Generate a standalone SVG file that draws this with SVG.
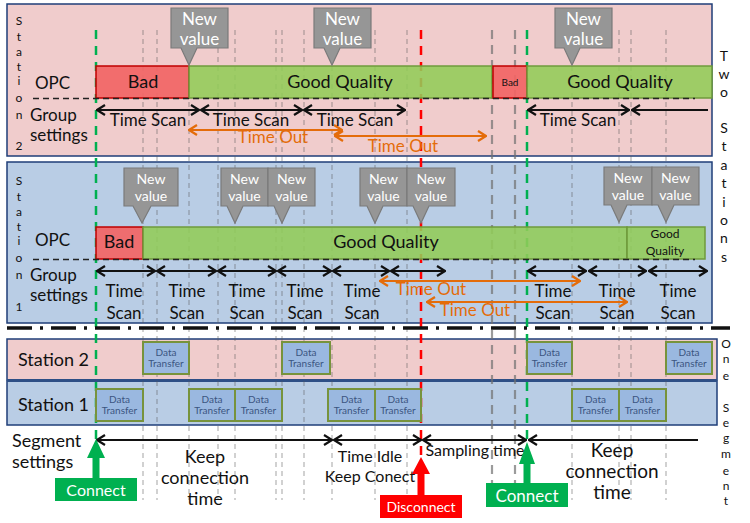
<svg xmlns="http://www.w3.org/2000/svg" width="750" height="523" viewBox="0 0 750 523">
<defs>
<style>
text{font-family:Lato,"Liberation Sans",sans-serif;fill:#111}
.lbl{font-size:17px}
.c{text-anchor:middle}
.vl{font-size:12px;text-anchor:middle}
.pink{fill:#f0cccc;stroke:#1f3e78;stroke-width:1.5}
.blue{fill:#b9cde5;stroke:#1f3e78;stroke-width:1.5}
.grid{stroke:#5a5a5a;stroke-opacity:.55;stroke-width:1;stroke-dasharray:5 4;fill:none}
.gridT{stroke:#707070;stroke-opacity:.7;stroke-width:2.2;stroke-dasharray:9 6;fill:none}
.good{fill:#92cc58;fill-opacity:.88;stroke:#6f9a3c;stroke-width:1.5}
.bad{fill:#f26565;fill-opacity:.92;stroke:#c00000;stroke-width:1.5}
.call{fill:#969696;stroke:#7a7a7a;stroke-width:1.2}
.callt{fill:#fff;text-anchor:middle}
.dt{fill:#9ab8e0;stroke:#77933c;stroke-width:2}
.dtt{fill:#3b5580;font-size:10px;text-anchor:middle}
.arr{stroke:#111;stroke-width:2;fill:none;marker-start:url(#ka);marker-end:url(#ka)}
.arr1{stroke:#111;stroke-width:2;fill:none;marker-start:url(#ka)}
.oarr{stroke:#e46c0a;stroke-width:2;fill:none;marker-start:url(#oa);marker-end:url(#oa)}
.ot{fill:#e46c0a;font-size:17px;text-anchor:middle}
</style>
<marker id="ka" viewBox="0 0 10 12" refX="9" refY="6" markerWidth="10" markerHeight="12" markerUnits="userSpaceOnUse" orient="auto-start-reverse">
<path d="M1,1 L9,6 L1,11" fill="none" stroke="#111" stroke-width="2.2"/>
</marker>
<marker id="oa" viewBox="0 0 10 12" refX="9" refY="6" markerWidth="10" markerHeight="12" markerUnits="userSpaceOnUse" orient="auto-start-reverse">
<path d="M1,1 L9,6 L1,11" fill="none" stroke="#e46c0a" stroke-width="2.2"/>
</marker>
</defs>

<g id="panels">
<rect class="pink" x="7" y="4" width="705" height="152"/>
<rect class="blue" x="7" y="162" width="705" height="161"/>
<rect class="pink" x="7" y="339" width="710" height="41"/>
<rect class="blue" x="7" y="381" width="710" height="44" fill="#bdd0e8"/>
<line x1="7" y1="380.5" x2="717" y2="380.5" stroke="#2e4f86" stroke-width="3"/>
</g>

<g id="gridlines">
<path class="grid" d="M143,30V500M157,30V500M189,30V500M218,30V500M235,30V500M276,30V500M282,30V500M304,30V500M332,30V500M375,30V500M407,30V500M572,30V500M619,30V500M631,30V500M666,30V500"/>
<path class="gridT" d="M492,30V485M515,30V490"/>
<line x1="96" y1="30" x2="96" y2="440" stroke="#00b050" stroke-width="2.5" stroke-dasharray="9 7"/>
<line x1="527" y1="30" x2="527" y2="440" stroke="#00b050" stroke-width="2.5" stroke-dasharray="9 7"/>
<line x1="421" y1="30" x2="421" y2="458" stroke="#ff0000" stroke-width="2.5" stroke-dasharray="9 7"/>
</g>

<g id="st2-bars">
<rect class="bad" x="96" y="66" width="93" height="32"/>
<text class="c" x="143" y="88" font-size="18">Bad</text>
<rect class="good" x="189" y="66" width="303" height="32"/>
<text class="c" x="340" y="88" font-size="18">Good Quality</text>
<rect class="bad" x="493" y="66" width="34" height="32"/>
<text class="c" x="510" y="86" font-size="10">Bad</text>
<rect class="good" x="527" y="66" width="185" height="32"/>
<text class="c" x="620" y="88" font-size="18">Good Quality</text>
</g>

<g id="st1-bars">
<rect class="bad" x="96" y="227" width="47" height="32"/>
<text class="c" x="119" y="248" font-size="18">Bad</text>
<rect class="good" x="143" y="227" width="484" height="32"/>
<text class="c" x="386" y="248" font-size="18">Good Quality</text>
<rect class="good" x="627" y="227" width="78" height="32"/>
<text class="c" x="665" y="238" font-size="12">Good</text>
<text class="c" x="665" y="255" font-size="12">Quality</text>
</g>

<path d="M33,98.5H695M33,259.5H695" stroke="#222" stroke-width="1.3" stroke-dasharray="6 4" fill="none"/>

<g id="st2-callouts" font-size="17">
<path class="call" d="M171,8H228V48H197L189,65L181,48H171Z"/>
<text class="callt" x="199.5" y="25">New</text><text class="callt" x="199.5" y="45">value</text>
<path class="call" d="M314,8H371V48H340L332,65L324,48H314Z"/>
<text class="callt" x="342.5" y="25">New</text><text class="callt" x="342.5" y="45">value</text>
<path class="call" d="M555,8H612V48H580L572,65L564,48H555Z"/>
<text class="callt" x="583.5" y="25">New</text><text class="callt" x="583.5" y="45">value</text>
</g>

<g id="st1-callouts" font-size="14">
<path class="call" d="M124,168H178V206H151L142,223L133,206H124Z"/>
<text class="callt" x="151" y="184">New</text><text class="callt" x="151" y="201">value</text>
<path class="call" d="M221,168H268V206H243L235,223L227,206H221Z"/>
<text class="callt" x="244.5" y="184">New</text><text class="callt" x="244.5" y="201">value</text>
<path class="call" d="M268,168H315V206H290L282,223L274,206H268Z"/>
<text class="callt" x="291.5" y="184">New</text><text class="callt" x="291.5" y="201">value</text>
<path class="call" d="M360,168H407V206H383L375,223L367,206H360Z"/>
<text class="callt" x="383.5" y="184">New</text><text class="callt" x="383.5" y="201">value</text>
<path class="call" d="M407,168H455V206H429L421,223L413,206H407Z"/>
<text class="callt" x="431" y="184">New</text><text class="callt" x="431" y="201">value</text>
<path class="call" d="M604,167H652V205H627L619,222L611,205H604Z"/>
<text class="callt" x="628" y="183">New</text><text class="callt" x="628" y="200">value</text>
<path class="call" d="M652,167H699V205H674L666,222L658,205H652Z"/>
<text class="callt" x="675.5" y="183">New</text><text class="callt" x="675.5" y="200">value</text>
</g>

<g id="connectors">
<path class="arr" d="M97,110H199"/>
<path class="arr" d="M201,110H302"/>
<path class="arr" d="M304,110H405"/>
<path class="arr" d="M528,110H629"/>
<path class="arr1" d="M632,110H708"/>
<path class="oarr" d="M189,130H342"/>
<path class="oarr" d="M335,136H486"/>
<path class="arr" d="M97,271H155"/>
<path class="arr" d="M157,271H216"/>
<path class="arr" d="M218,271H276"/>
<path class="arr" d="M278,271H331"/>
<path class="arr" d="M333,271H389"/>
<path class="arr" d="M391,271H445"/>
<path class="arr" d="M528,271H586"/>
<path class="arr" d="M589,271H646"/>
<path class="arr" d="M649,271H707"/>
<path class="oarr" d="M380,281H580"/>
<path class="oarr" d="M427,302H627"/>
<path class="arr" d="M97,440H332"/>
<path class="arr" d="M334,440H421"/>
<path class="arr" d="M423,440H526"/>
<path class="arr1" d="M529,440H698"/>
</g>

<g id="separator">
<line x1="7" y1="328" x2="730" y2="328" stroke="#111" stroke-width="3.5" stroke-dasharray="25 8 3 8"/>
</g>

<g id="st2-labels" class="lbl">
<text x="35" y="89">OPC</text>
<text x="30" y="121">Group</text>
<text x="30" y="141">settings</text>
<g class="vl"><text x="19" y="25">S</text><text x="19" y="41">t</text><text x="19" y="56">a</text><text x="19" y="71">t</text><text x="19" y="85">i</text><text x="19" y="102">o</text><text x="19" y="119">n</text><text x="19" y="150">2</text></g>
<text class="c" x="148" y="126">Time Scan</text>
<text class="c" x="251" y="126">Time Scan</text>
<text class="c" x="355" y="126">Time Scan</text>
<text class="c" x="578" y="126">Time Scan</text>
<text class="ot" x="273" y="143">Time Out</text>
<text class="ot" x="403" y="152">Time Out</text>
</g>

<g id="st1-labels" class="lbl">
<text x="35" y="246">OPC</text>
<text x="30" y="281">Group</text>
<text x="30" y="301">settings</text>
<g class="vl"><text x="19" y="185">S</text><text x="19" y="201">t</text><text x="19" y="216">a</text><text x="19" y="231">t</text><text x="19" y="245">i</text><text x="19" y="262">o</text><text x="19" y="279">n</text><text x="19" y="311">1</text></g>
<g class="c">
<text x="124" y="297">Time</text><text x="124" y="319">Scan</text>
<text x="187" y="297">Time</text><text x="187" y="319">Scan</text>
<text x="247" y="297">Time</text><text x="247" y="319">Scan</text>
<text x="305" y="297">Time</text><text x="305" y="319">Scan</text>
<text x="362" y="297">Time</text><text x="362" y="319">Scan</text>
<text x="553" y="297">Time</text><text x="553" y="319">Scan</text>
<text x="617" y="297">Time</text><text x="617" y="319">Scan</text>
<text x="678" y="297">Time</text><text x="678" y="319">Scan</text>
</g>
<text class="ot" x="431" y="295">Time Out</text>
<text class="ot" x="475" y="316">Time Out</text>
</g>

<g id="side-labels">
<g class="c" font-size="14"><text x="724" y="61">T</text><text x="724" y="79">w</text><text x="724" y="97">o</text><text x="724" y="133">S</text><text x="724" y="151">t</text><text x="724" y="170">a</text><text x="724" y="188">t</text><text x="724" y="207">i</text><text x="724" y="225">o</text><text x="724" y="243">n</text><text x="724" y="262">s</text></g>
<g class="c" font-size="12"><text x="726" y="348">O</text><text x="726" y="363">n</text><text x="726" y="380">e</text><text x="726" y="412">S</text><text x="726" y="427">e</text><text x="726" y="442">g</text><text x="726" y="458">m</text><text x="726" y="475">e</text><text x="726" y="490">n</text><text x="726" y="505">t</text></g>
</g>

<g id="seg-st2">
<text x="18" y="366" font-size="18">Station 2</text>
<rect class="dt" x="143" y="342" width="46" height="32"/><text class="dtt" x="166" y="356">Data</text><text class="dtt" x="166" y="367">Transfer</text>
<rect class="dt" x="282" y="342" width="48" height="32"/><text class="dtt" x="306" y="356">Data</text><text class="dtt" x="306" y="367">Transfer</text>
<rect class="dt" x="527" y="342" width="45" height="32"/><text class="dtt" x="549.5" y="356">Data</text><text class="dtt" x="549.5" y="367">Transfer</text>
<rect class="dt" x="666" y="342" width="46" height="32"/><text class="dtt" x="689" y="356">Data</text><text class="dtt" x="689" y="367">Transfer</text>
</g>

<g id="seg-st1">
<text x="18" y="411" font-size="18">Station 1</text>
<rect class="dt" x="96" y="389" width="47" height="32"/><text class="dtt" x="119.5" y="403">Data</text><text class="dtt" x="119.5" y="414">Transfer</text>
<rect class="dt" x="189" y="389" width="46" height="32"/><text class="dtt" x="212" y="403">Data</text><text class="dtt" x="212" y="414">Transfer</text>
<rect class="dt" x="235" y="389" width="47" height="32"/><text class="dtt" x="258.5" y="403">Data</text><text class="dtt" x="258.5" y="414">Transfer</text>
<rect class="dt" x="328" y="389" width="47" height="32"/><text class="dtt" x="351.5" y="403">Data</text><text class="dtt" x="351.5" y="414">Transfer</text>
<rect class="dt" x="375" y="389" width="46" height="32"/><text class="dtt" x="398" y="403">Data</text><text class="dtt" x="398" y="414">Transfer</text>
<rect class="dt" x="572" y="389" width="47" height="32"/><text class="dtt" x="595.5" y="403">Data</text><text class="dtt" x="595.5" y="414">Transfer</text>
<rect class="dt" x="619" y="389" width="47" height="32"/><text class="dtt" x="642.5" y="403">Data</text><text class="dtt" x="642.5" y="414">Transfer</text>
</g>

<g id="segment-labels">
<text x="12" y="447" font-size="18">Segment</text>
<text x="12" y="468" font-size="18">settings</text>
<g class="c" font-size="18"><text x="205" y="463">Keep</text><text x="205" y="484">connection</text><text x="205" y="505">time</text></g>
<g class="c" font-size="16"><text x="370" y="462">Time Idle</text><text x="370" y="482">Keep Conect</text></g>
<text class="c" x="475" y="456" font-size="16">Sampling time</text>
<g class="c" font-size="19"><text x="612" y="457">Keep</text><text x="612" y="478">connection</text><text x="612" y="499">time</text></g>
</g>

<g id="connect-left">
<polygon points="96,439 105,458 99.5,458 99.5,479 92.5,479 92.5,458 87,458" fill="#00b050"/>
<rect x="55" y="478" width="82" height="23" fill="#00b050"/>
<text class="c" x="96" y="496" font-size="16" style="fill:#fff">Connect</text>
</g>
<g id="disconnect">
<polygon points="421,457 430,474 424.5,474 424.5,496 417.5,496 417.5,474 412,474" fill="#ff0000"/>
<rect x="380" y="495" width="82" height="23" fill="#ff0000"/>
<text class="c" x="421" y="512" font-size="14" style="fill:#fff">Disconnect</text>
</g>
<g id="connect-right">
<polygon points="527,442 535,464 530.5,464 530.5,484 523.5,484 523.5,464 519,464" fill="#00b050"/>
<rect x="486" y="483" width="82" height="24" fill="#00b050"/>
<text class="c" x="527" y="502" font-size="17" style="fill:#fff">Connect</text>
</g>
</svg>
